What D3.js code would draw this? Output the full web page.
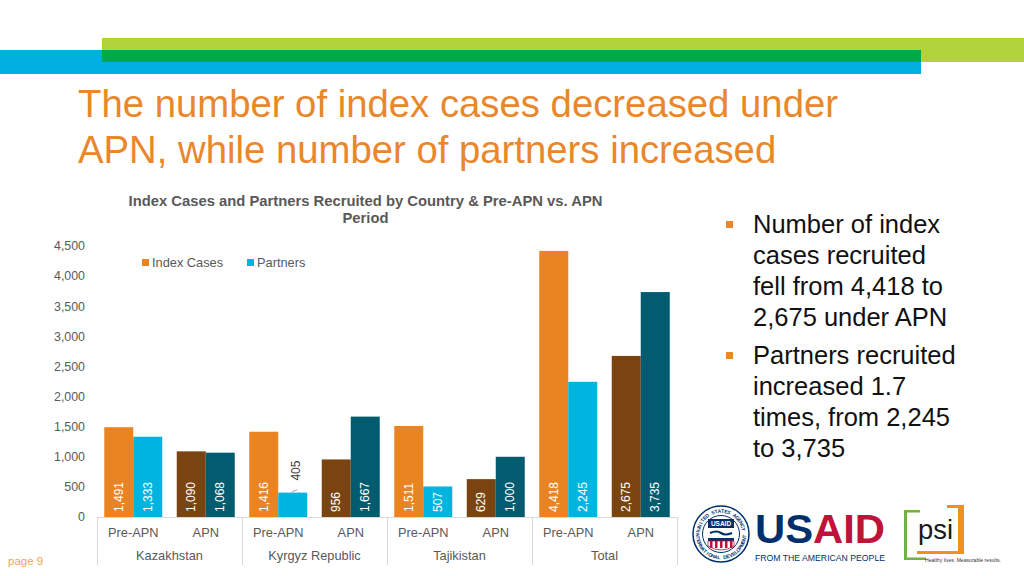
<!DOCTYPE html>
<html><head><meta charset="utf-8">
<script src="https://cdn.jsdelivr.net/npm/d3@7"></script>
<style>
body{margin:0;background:#fff;overflow:hidden}
svg{display:block}
text{font-family:"Liberation Sans",Arial,Helvetica,sans-serif}
</style>
</head><body>
<svg id="c" width="1024" height="576"></svg>
<script>
// ---------- data ----------
const countries = ["Kazakhstan", "Kyrgyz Republic", "Tajikistan", "Total"];
const periods = ["Pre-APN", "APN"];
const seriesNames = ["Index Cases", "Partners"];
const indexPre = [1491, 1416, 1511, 4418];
const indexApn = [1090, 956, 629, 2675];
const partnersPre = [1333, 405, 507, 2245];
const partnersApn = [1068, 1667, 1000, 3735];
const yTicks = [0, 500, 1000, 1500, 2000, 2500, 3000, 3500, 4000, 4500];
const titleLines = ["The number of index cases decreased under", "APN, while number of partners increased"];
const chartTitleLines = ["Index Cases and Partners Recruited by Country & Pre-APN vs. APN", "Period"];
const bullets = [
  ["Number of index", "cases recruited", "fell from 4,418 to", "2,675 under APN"],
  ["Partners recruited", "increased 1.7", "times, from 2,245", "to 3,735"]
];
const pageLabel = "page 9";

// ---------- styles ----------
const colors = {
  "Index Cases|Pre-APN": "#ea8423",
  "Partners|Pre-APN": "#00b4e0",
  "Index Cases|APN": "#7a4410",
  "Partners|APN": "#035b70"
};
const orange = "#e9872a";
const grayText = "#595959";

const svg = d3.select("#c");

// ---------- decorative bands ----------
svg.append("rect").attr("x", 102).attr("y", 38).attr("width", 922).attr("height", 24).attr("fill", "#b3d33a");
svg.append("rect").attr("x", 0).attr("y", 50).attr("width", 921).attr("height", 24).attr("fill", "#00b0e0");
svg.append("rect").attr("x", 102).attr("y", 50).attr("width", 819).attr("height", 12).attr("fill", "#00a651");

// ---------- title ----------
svg.append("g").selectAll("text").data(titleLines).join("text")
  .attr("x", 78).attr("y", (d, i) => 117 + i * 46)
  .attr("font-size", 38.3).attr("fill", orange).text(d => d);

// ---------- chart ----------
const y = d3.scaleLinear().domain([0, 4500]).range([517, 246]);
const x0 = d3.scaleBand().domain(countries).range([97, 677]).padding(0);
const x1 = d3.scaleBand().domain(periods).range([0, x0.bandwidth()]).padding(0);
const x2 = d3.scaleBand().domain(seriesNames).range([0, x1.bandwidth()]).paddingInner(0).paddingOuter(0.25);

const rows = [];
countries.forEach((c, i) => {
  rows.push({c, p: "Pre-APN", s: "Index Cases", v: indexPre[i]});
  rows.push({c, p: "Pre-APN", s: "Partners", v: partnersPre[i]});
  rows.push({c, p: "APN", s: "Index Cases", v: indexApn[i]});
  rows.push({c, p: "APN", s: "Partners", v: partnersApn[i]});
});
const bx = d => x0(d.c) + x1(d.p) + x2(d.s);

// chart title
svg.append("g").selectAll("text").data(chartTitleLines).join("text")
  .attr("x", 365.5).attr("y", (d, i) => 206 + i * 17)
  .attr("text-anchor", "middle").attr("font-weight", "bold")
  .attr("font-size", 14.8).attr("fill", grayText).text(d => d);

// y axis labels
svg.append("g").selectAll("text").data(yTicks).join("text")
  .attr("x", 85).attr("y", d => y(d)).attr("dy", "0.35em")
  .attr("text-anchor", "end").attr("font-size", 12.4).attr("fill", grayText)
  .text(d => d3.format(",")(d));

// bars
svg.append("g").selectAll("rect").data(rows).join("rect")
  .attr("x", bx).attr("width", x2.bandwidth())
  .attr("y", d => y(d.v)).attr("height", d => y(0) - y(d.v))
  .attr("fill", d => colors[d.s + "|" + d.p]);

// value labels
const fmt = d3.format(",");
const lab = svg.append("g");
rows.forEach(d => {
  const cx = bx(d) + x2.bandwidth() / 2;
  const h = y(0) - y(d.v);
  const t = lab.append("text").attr("font-size", 12).text(fmt(d.v));
  const len = t.node().getComputedTextLength();
  if (h >= len + 8) {
    t.attr("fill", "#ffffff").attr("text-anchor", "start")
     .attr("transform", `translate(${cx + 4.2},${y(0) - 5}) rotate(-90)`);
  } else {
    const top = y(d.v);
    lab.append("line").attr("x1", cx - 1).attr("y1", top - 0.5).attr("x2", cx + 4.5).attr("y2", top - 3)
      .attr("stroke", "#8c8c8c").attr("stroke-width", 0.8);
    t.attr("fill", "#404040").attr("text-anchor", "start")
     .attr("transform", `translate(${cx + 7.5},${top - 12}) rotate(-90)`);
  }
});

// category axis
const ax = svg.append("g").attr("stroke", "#d9d9d9").attr("stroke-width", 1);
ax.append("line").attr("x1", 97).attr("x2", 677).attr("y1", 517.5).attr("y2", 517.5);
const edges = countries.map(c => x0(c)).concat([x0.range()[1]]);
ax.selectAll("line.sep").data(edges).join("line").attr("class", "sep")
  .attr("x1", d => Math.round(d) + 0.5).attr("x2", d => Math.round(d) + 0.5)
  .attr("y1", 517).attr("y2", 565);

const pl = [];
countries.forEach(c => periods.forEach(p => pl.push({c, p})));
svg.append("g").selectAll("text").data(pl).join("text")
  .attr("x", d => x0(d.c) + x1(d.p) + x1.bandwidth() / 2).attr("y", 537)
  .attr("text-anchor", "middle").attr("font-size", 12.8).attr("fill", grayText).text(d => d.p);
svg.append("g").selectAll("text").data(countries).join("text")
  .attr("x", d => x0(d) + x0.bandwidth() / 2).attr("y", 560)
  .attr("text-anchor", "middle").attr("font-size", 12.8).attr("fill", grayText).text(d => d);

// legend
const leg = svg.append("g");
const legX = [142, 247];
seriesNames.forEach((s, i) => {
  leg.append("rect").attr("x", legX[i]).attr("y", 259).attr("width", 7).attr("height", 7)
    .attr("fill", colors[s + "|Pre-APN"]);
  leg.append("text").attr("x", legX[i] + 10).attr("y", 267).attr("font-size", 12.8)
    .attr("fill", grayText).text(s);
});

// ---------- bullets ----------
const bg = svg.append("g");
const bulletTop = [233, 364];
bullets.forEach((b, bi) => {
  bg.append("rect").attr("x", 726).attr("y", bulletTop[bi] - 12).attr("width", 7).attr("height", 7).attr("fill", orange);
  b.forEach((ln, li) => {
    bg.append("text").attr("x", 753).attr("y", bulletTop[bi] + li * 31)
      .attr("font-size", 25.5).attr("fill", "#111111").text(ln);
  });
});

// ---------- page label ----------
svg.append("text").attr("x", 8).attr("y", 565).attr("font-size", 11.5).attr("fill", "#f0a554").text(pageLabel);

// ---------- logos ----------
const navy = "#002f6c", red = "#c1133a";
const seal = svg.append("g").attr("transform", "translate(721,534)");
seal.append("circle").attr("r", 28).attr("fill", "#fff").attr("stroke", navy).attr("stroke-width", 1.5);
seal.append("circle").attr("r", 18.5).attr("fill", "#fff").attr("stroke", navy).attr("stroke-width", 1);
// ring letters placed one by one
function ringText(str, a0, a1, r, flip) {
  const chars = str.split("");
  const n = chars.length;
  chars.forEach((ch, k) => {
    const a = a0 + (a1 - a0) * (n === 1 ? 0.5 : k / (n - 1));
    const rad = (a - 90) * Math.PI / 180;
    const px = r * Math.cos(rad), py = r * Math.sin(rad);
    const rot = flip ? a + 180 : a;
    seal.append("text").attr("font-size", 5).attr("font-weight", "bold").attr("fill", navy)
      .attr("text-anchor", "middle").attr("dominant-baseline", "central")
      .attr("transform", `translate(${px.toFixed(2)},${py.toFixed(2)}) rotate(${rot.toFixed(1)})`)
      .text(ch);
  });
}
ringText("UNITED STATES AGENCY", -78, 78, 23.2, false);
ringText("INTERNATIONAL DEVELOPMENT", 275, 95, 23.2, true);
seal.append("rect").attr("x", -13).attr("y", -15).attr("width", 26).attr("height", 9).attr("fill", navy);
seal.append("text").attr("x", 0).attr("y", -8.3).attr("text-anchor", "middle").attr("font-size", 6.5)
  .attr("font-weight", "bold").attr("fill", "#fff").text("USAID");
seal.append("path").attr("d", "M -11,-1 Q -4,-4 0,-1 Q 4,2 11,-1").attr("fill", "none").attr("stroke", navy).attr("stroke-width", 2.2);
seal.append("rect").attr("x", -13).attr("y", 4).attr("width", 26).attr("height", 3).attr("fill", navy);
[-11, -6, -1, 4, 9].forEach(xx => seal.append("rect").attr("x", xx).attr("y", 7).attr("width", 2.5).attr("height", 7).attr("fill", red));
seal.append("path").attr("d", "M -13,7 L 13,7 L 13,12 Q 0,20 -13,12 Z").attr("fill", "none").attr("stroke", red).attr("stroke-width", 0.8);

const usaid = svg.append("text").attr("x", 755).attr("y", 543).attr("font-size", 40).attr("font-weight", "bold")
  .attr("textLength", 130).attr("lengthAdjust", "spacingAndGlyphs");
usaid.append("tspan").attr("fill", navy).text("US");
usaid.append("tspan").attr("fill", red).text("AID");
svg.append("text").attr("x", 755).attr("y", 560.5).attr("font-size", 9.5).attr("fill", navy)
  .attr("textLength", 130).attr("lengthAdjust", "spacingAndGlyphs").text("FROM THE AMERICAN PEOPLE");

const psi = svg.append("g");
const green = "#6db33f", psiOr = "#f0901e";
psi.append("rect").attr("x", 904).attr("y", 510).attr("width", 3).attr("height", 50).attr("fill", green);
psi.append("rect").attr("x", 904).attr("y", 510).attr("width", 16).attr("height", 2.5).attr("fill", green);
psi.append("rect").attr("x", 904).attr("y", 557.5).attr("width", 22).attr("height", 2.5).attr("fill", green);
psi.append("rect").attr("x", 958).attr("y", 505).attr("width", 6).attr("height", 49).attr("fill", psiOr);
psi.append("rect").attr("x", 947).attr("y", 505).attr("width", 17).attr("height", 3).attr("fill", psiOr);
psi.append("rect").attr("x", 917).attr("y", 551).attr("width", 47).attr("height", 3).attr("fill", psiOr);
psi.append("text").attr("x", 918).attr("y", 539).attr("font-size", 28).attr("fill", "#1a1a1a")
  .attr("textLength", 35).attr("lengthAdjust", "spacingAndGlyphs").text("psi");
psi.append("text").attr("x", 925).attr("y", 561.5).attr("font-size", 5.5).attr("fill", "#333")
  .attr("textLength", 76).attr("lengthAdjust", "spacingAndGlyphs").text("Healthy lives. Measurable results.");
</script>
</body></html>
